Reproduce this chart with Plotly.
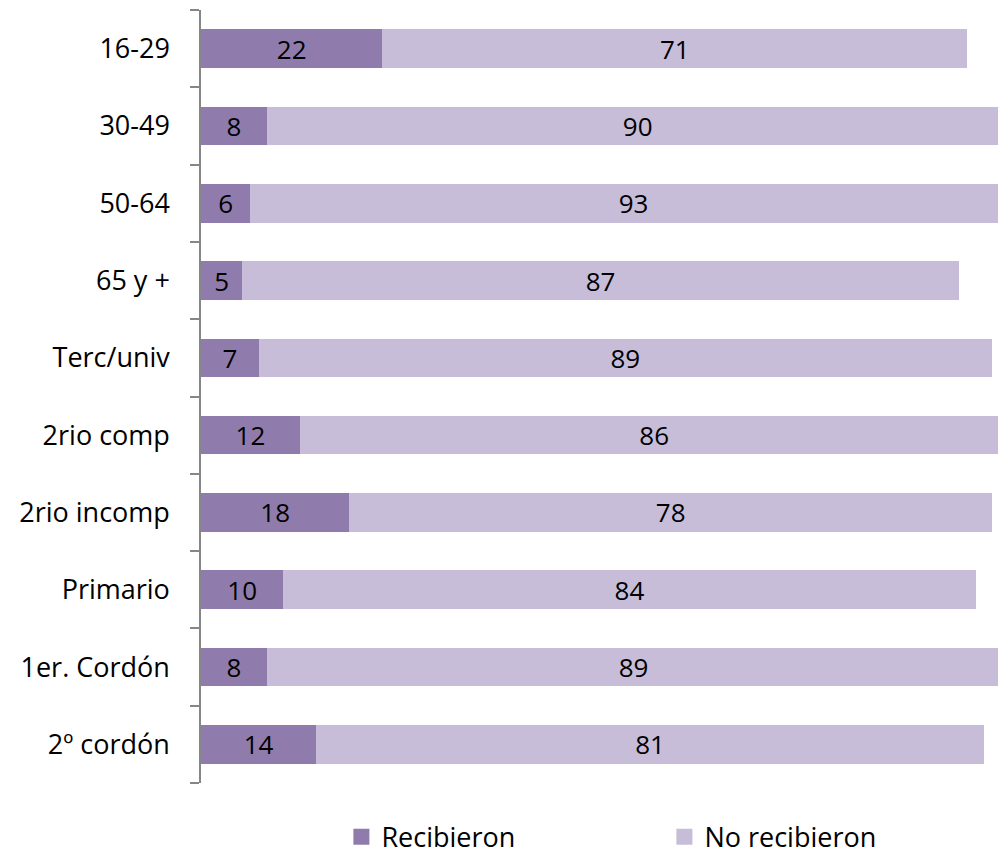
import plotly.graph_objects as go

categories = ["16-29", "30-49", "50-64", "65 y +", "Terc/univ", "2rio comp",
              "2rio incomp", "Primario", "1er. Cordón", "2º cordón"]
recibieron = [22, 8, 6, 5, 7, 12, 18, 10, 8, 14]
no_recibieron = [71, 90, 93, 87, 89, 86, 78, 84, 89, 81]
series_names = ["Recibieron", "No recibieron"]

FONT = "Open Sans"
DARK = "#8F7CAD"
LIGHT = "#C7BDD8"
FS = 27

fig = go.Figure()
for vals, name, col in [(recibieron, series_names[0], DARK), (no_recibieron, series_names[1], LIGHT)]:
    fig.add_trace(go.Bar(
        y=categories, x=vals, orientation="h", name=name, showlegend=False,
        marker=dict(color=col, line=dict(width=0)),
        text=vals, textposition="inside", insidetextanchor="middle", textangle=0,
        textfont=dict(color="black", size=FS - 1, family=FONT), constraintext="none",
    ))
# legend entries (square markers)
for name, col in [(series_names[0], DARK), (series_names[1], LIGHT)]:
    fig.add_trace(go.Scatter(
        x=[None], y=[None], mode="markers", name=name, showlegend=True,
        marker=dict(symbol="square", size=16, color=col, line=dict(width=0)),
    ))

W = 998
fig.update_layout(
    barmode="stack", bargap=0.5,
    width=W, height=846,
    margin=dict(l=193, r=0, t=2, b=71),
    plot_bgcolor="white", paper_bgcolor="white",
    font=dict(family=FONT, size=FS, color="black"),
    showlegend=True,
    legend=dict(orientation="h", xref="container", yref="container",
                x=(0.661 * 990 + 2) / W, y=0.02, xanchor="center", yanchor="middle",
                font=dict(size=FS, family=FONT), entrywidth=278,
                itemsizing="trace", traceorder="normal"),
    uniformtext=dict(mode=False),
)
fig.update_xaxes(range=[0, 97.7], visible=False, showgrid=False, zeroline=False)
fig.update_yaxes(
    categoryorder="array", categoryarray=categories[::-1],
    autorange=False, range=[-0.5, 9.5],
    showline=True, linecolor="#868686", linewidth=1.5,
    ticks="outside", tickson="boundaries", ticklen=9, tickcolor="#868686", tickwidth=1.5,
    ticklabelstandoff=24, showgrid=False, zeroline=False,
    tickfont=dict(size=FS, family=FONT, color="black"),
)

fig.write_html("out.html")
